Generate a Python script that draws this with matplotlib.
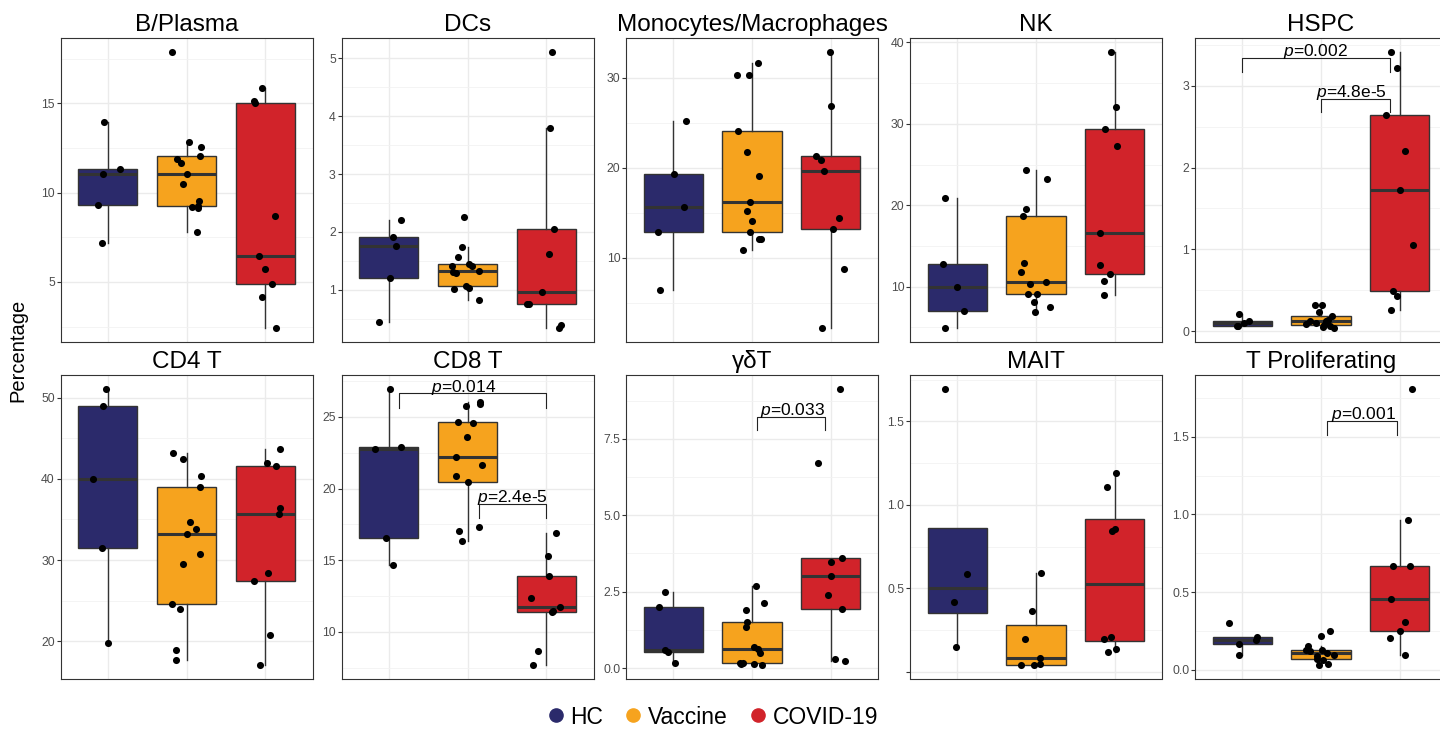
import matplotlib
matplotlib.use("Agg")
import matplotlib.pyplot as plt
from matplotlib.lines import Line2D
import numpy as np

plt.rcParams['font.family'] = ['Liberation Sans', 'DejaVu Sans']
plt.rcParams['mathtext.fontset'] = 'custom'
plt.rcParams['mathtext.it'] = 'Liberation Sans:italic'
plt.rcParams['mathtext.rm'] = 'Liberation Sans'

groups = ["HC", "Vaccine", "COVID-19"]
colors = ["#2B2A6B", "#F6A31E", "#D1232A"]

# values per panel: [HC, Vaccine, COVID-19]
bplasma = [[13.94, 11.30, 11.04, 9.31, 7.19],
           [17.86, 12.84, 12.57, 12.04, 11.88, 11.64, 11.04, 10.48, 9.50, 9.25, 9.20, 9.15, 7.79],
           [15.84, 15.11, 15.02, 8.70, 6.43, 5.72, 4.91, 4.15, 2.42]]
bplasma_jit = [[-0.05, 0.15, -0.06, -0.12, -0.07],
               [-0.19, 0.03, 0.18, 0.17, -0.12, -0.07, 0.0, -0.05, 0.16, 0.15, 0.07, 0.15, 0.13],
               [-0.04, -0.14, -0.13, 0.13, -0.08, 0.0, 0.08, -0.04, 0.14]]

dcs = [[2.21, 1.92, 1.75, 1.21, 0.45],
       [2.26, 1.74, 1.56, 1.44, 1.41, 1.41, 1.33, 1.30, 1.29, 1.07, 1.04, 1.02, 0.83],
       [5.11, 3.80, 2.05, 1.62, 0.97, 0.76, 0.75, 0.40, 0.34]]
dcs_jit = [[0.16, 0.06, 0.09, 0.01, -0.13],
           [-0.05, -0.07, -0.12, 0.02, -0.20, 0.06, 0.14, -0.18, -0.15, -0.02, 0.02, -0.17, 0.14],
           [0.07, 0.05, 0.10, 0.04, -0.06, -0.25, -0.22, 0.19, 0.16]]

mono = [[25.17, 19.34, 15.61, 12.80, 6.35],
        [31.62, 30.26, 30.30, 24.06, 21.73, 19.04, 16.20, 15.20, 14.06, 12.84, 12.10, 12.07, 10.81],
        [32.84, 26.86, 21.29, 20.89, 19.59, 14.43, 13.17, 8.75, 2.18]]
mono_jit = [[0.16, 0.01, 0.14, -0.19, -0.17],
            [0.08, -0.19, -0.04, -0.18, -0.06, 0.09, -0.02, -0.06, 0.0, -0.02, 0.09, 0.12, -0.12],
            [-0.01, 0.0, -0.19, -0.12, -0.08, 0.10, 0.03, 0.17, -0.11]]

nk = [[20.90, 12.82, 9.88, 7.02, 4.90],
      [24.29, 23.27, 19.51, 18.61, 12.94, 11.84, 10.61, 10.37, 9.14, 9.06, 8.12, 7.47, 6.90],
      [38.82, 32.04, 29.35, 27.22, 16.53, 12.61, 11.59, 10.65, 8.98]]
nk_jit = [[-0.16, -0.18, 0.0, 0.09, -0.15],
          [-0.13, 0.14, -0.13, -0.17, -0.15, -0.19, 0.13, -0.08, -0.10, 0.01, -0.02, 0.18, -0.01],
          [-0.05, 0.01, -0.13, 0.03, -0.19, -0.19, -0.06, -0.14, -0.14]]

hspc = [[0.21, 0.13, 0.10, 0.07, 0.06],
        [0.32, 0.32, 0.24, 0.19, 0.14, 0.13, 0.13, 0.10, 0.09, 0.08, 0.06, 0.05, 0.04],
        [3.41, 3.22, 2.64, 2.20, 1.72, 1.05, 0.49, 0.43, 0.26]]
hspc_jit = [[-0.04, 0.09, 0.02, -0.07, -0.05],
            [-0.08, 0.01, -0.03, 0.14, 0.09, -0.14, 0.06, -0.06, -0.19, 0.04, 0.12, 0.02, 0.17],
            [-0.11, -0.03, -0.17, 0.07, 0.0, 0.17, -0.08, -0.03, -0.11]]

cd4 = [[51.13, 48.99, 39.96, 31.46, 19.71],
       [43.24, 42.51, 40.33, 38.97, 34.70, 33.84, 33.18, 30.80, 29.53, 24.56, 23.98, 18.89, 17.70],
       [43.74, 41.93, 41.64, 36.47, 35.65, 28.42, 27.47, 20.74, 17.08]]
cd4_jit = [[-0.02, -0.06, -0.19, -0.07, 0.0],
           [-0.17, -0.04, 0.18, 0.17, 0.05, 0.12, 0.0, 0.17, -0.04, -0.18, -0.08, -0.13, -0.13],
           [0.19, 0.02, 0.14, 0.19, 0.17, 0.04, -0.14, 0.06, -0.07]]

cd8 = [[26.96, 22.90, 22.74, 16.57, 14.69],
       [26.01, 25.89, 25.75, 24.64, 24.59, 23.57, 22.18, 21.67, 20.88, 20.46, 17.31, 17.05, 16.36],
       [16.87, 15.31, 13.92, 12.34, 11.72, 11.44, 11.37, 8.63, 7.70]]
cd8_jit = [[0.01, 0.16, -0.18, -0.04, 0.05],
           [0.16, 0.16, -0.02, -0.12, 0.07, -0.01, -0.15, 0.18, -0.14, 0.01, 0.15, -0.11, -0.07],
           [0.13, 0.02, 0.04, -0.20, 0.17, 0.08, 0.07, -0.10, -0.17]]

gdt = [[2.48, 2.00, 0.60, 0.52, 0.15],
       [2.70, 2.13, 1.90, 1.52, 1.35, 0.69, 0.62, 0.48, 0.15, 0.15, 0.13, 0.12, 0.11],
       [9.14, 6.70, 3.60, 3.46, 3.02, 2.39, 1.94, 0.30, 0.24]]
gdt_jit = [[-0.11, -0.18, -0.11, -0.07, 0.02],
           [0.05, 0.15, -0.07, -0.06, -0.07, 0.03, 0.07, 0.10, -0.12, -0.15, 0.02, -0.14, 0.13],
           [0.12, -0.16, 0.14, 0.0, 0.0, -0.03, 0.14, 0.06, 0.18]]

mait = [[1.696, 0.584, 0.42, 0.145],
        [0.592, 0.362, 0.197, 0.081, 0.041, 0.041, 0.043],
        [1.189, 1.109, 0.853, 0.845, 0.209, 0.197, 0.133, 0.117]]
mait_jit = [[-0.16, 0.13, -0.04, -0.02],
            [0.06, -0.05, -0.14, 0.05, -0.19, -0.02, 0.05],
            [0.02, -0.10, 0.0, -0.04, -0.05, -0.14, 0.02, -0.09]]

tprol = [[0.304, 0.212, 0.196, 0.165, 0.098],
         [0.248, 0.218, 0.152, 0.128, 0.126, 0.122, 0.109, 0.098, 0.088, 0.073, 0.066, 0.036, 0.034],
         [1.808, 0.965, 0.668, 0.666, 0.454, 0.306, 0.253, 0.205, 0.098]]
tprol_jit = [[-0.17, 0.19, 0.18, -0.04, -0.04],
             [0.12, 0.0, -0.16, -0.19, 0.01, -0.14, 0.08, 0.16, -0.05, -0.05, 0.02, 0.09, -0.03],
             [0.15, 0.10, -0.08, 0.13, -0.11, 0.07, 0.0, -0.13, 0.07]]

titles = ["B/Plasma", "DCs", "Monocytes/Macrophages", "NK", "HSPC",
          "CD4 T", "CD8 T", "γδT", "MAIT", "T Proliferating"]
panels = [bplasma, dcs, mono, nk, hspc, cd4, cd8, gdt, mait, tprol]
jitters = [bplasma_jit, dcs_jit, mono_jit, nk_jit, hspc_jit,
           cd4_jit, cd8_jit, gdt_jit, mait_jit, tprol_jit]
yticks = [[5, 10, 15], [1, 2, 3, 4, 5], [10, 20, 30], [10, 20, 30, 40], [0, 1, 2, 3],
          [20, 30, 40, 50], [10, 15, 20, 25], [0, 2.5, 5, 7.5], [0, 0.5, 1, 1.5], [0, 0.5, 1, 1.5]]
ylabels = [["5", "10", "15"], ["1", "2", "3", "4", "5"], ["10", "20", "30"], ["10", "20", "30", "40"],
           ["0", "1", "2", "3"], ["20", "30", "40", "50"], ["10", "15", "20", "25"],
           ["0.0", "2.5", "5.0", "7.5"], ["", "0.5", "1.0", "1.5"], ["0.0", "0.5", "1.0", "1.5"]]

# p-value brackets: panel index -> (x start, x end, y, tip y, p label, label x)
pvals = {
    4: [(0.0, 1.87, 3.34, 3.17, "0.002", 0.93), (1.0, 1.88, 2.84, 2.68, "4.8e-5", 1.38)],
    6: [(0.13, 2.0, 26.64, 25.64, "0.014", 0.95), (1.14, 2.0, 18.91, 17.93, "2.4e-5", 1.57)],
    7: [(1.06, 1.93, 8.23, 7.79, "0.033", 1.52)],
    9: [(1.08, 1.96, 1.60, 1.51, "0.001", 1.54)],
}

W, H = 1440, 729
col_left = [60.5, 341.5, 626, 910, 1195]
row_top = [38.3, 375]
pw, ph = 252, 303.5
edge = "#333333"

fig = plt.figure(figsize=(W / 100, H / 100), dpi=100)

for k in range(10):
    r, c = divmod(k, 5)
    ax = fig.add_axes([col_left[c] / W, 1 - (row_top[r] + ph) / H, pw / W, ph / H])
    data = panels[k]
    for i, vals in enumerate(data):
        ax.boxplot([vals], positions=[i], widths=0.75, patch_artist=True,
                   showfliers=False, showcaps=False,
                   boxprops=dict(facecolor=colors[i], edgecolor=edge, linewidth=1.0),
                   medianprops=dict(color=edge, linewidth=2.2),
                   whiskerprops=dict(color=edge, linewidth=1.0), zorder=2)
        ax.scatter(i + np.array(jitters[k][i]), vals, s=26, color="black",
                   linewidths=0, zorder=3)

    allv = np.concatenate([np.array(v) for v in data])
    lo, hi = allv.min(), allv.max()
    pad = 0.05 * (hi - lo)
    for (x1, x2, y, tip, lab, tx) in pvals.get(k, []):
        ax.plot([x1, x1, x2, x2], [tip, y, y, tip], color="#222222", lw=0.8, zorder=4)
        ax.annotate("$p$=" + lab, xy=(tx, y), xytext=(0, 1.2), textcoords="offset points",
                    ha="center", va="baseline", fontsize=12.5, zorder=5)
    ax.set_ylim(lo - pad, hi + pad)
    ax.set_xlim(-0.6, 2.6)

    ax.set_xticks([0, 1, 2])
    ax.set_xticklabels([])
    ax.tick_params(axis="x", length=0)
    ax.set_yticks(yticks[k])
    ax.set_yticklabels(ylabels[k])
    step = yticks[k][1] - yticks[k][0]
    minor = np.arange(yticks[k][0] - step * 1.5, yticks[k][-1] + step * 2, step)
    ax.set_yticks(minor[(minor > lo - pad) & (minor < hi + pad)], minor=True)
    ax.tick_params(axis="y", which="major", labelsize=8.8, labelcolor="#4D4D4D",
                   color=edge, length=2.6, width=0.8, pad=1.5)
    ax.tick_params(axis="y", which="minor", length=0)
    ax.set_axisbelow(True)
    ax.grid(which="major", color="#EBEBEB", lw=1.0)
    ax.grid(which="minor", axis="y", color="#F2F2F2", lw=0.6)
    for s in ax.spines.values():
        s.set_color(edge)
        s.set_linewidth(0.8)
    ax.set_title(titles[k], fontsize=17.5, pad=5)

fig.text(18 / W, 1 - 350 / H, "Percentage", rotation=90, ha="center", va="center", fontsize=14.5)

handles = [Line2D([], [], marker="o", linestyle="", markersize=9.5,
                  markerfacecolor=col, markeredgecolor=col) for col in colors]
fig.legend(handles, groups, loc="center", bbox_to_anchor=(0.5 - 9 / W, 1 - 717 / H), ncol=3,
           frameon=False, fontsize=16.5, handletextpad=0.15, columnspacing=0.8,
           handlelength=1.0, borderaxespad=0)

fig.savefig("out.png", dpi=100)
